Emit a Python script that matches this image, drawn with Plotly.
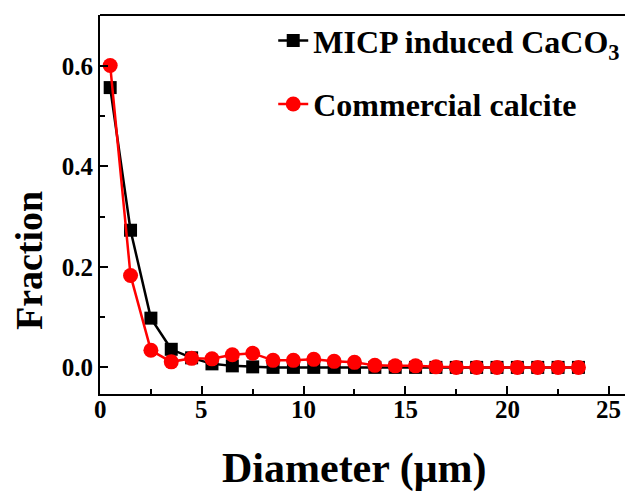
import plotly.graph_objects as go

diameter = [0.5, 1.5, 2.5, 3.5, 4.5, 5.5, 6.5, 7.5, 8.5, 9.5, 10.5, 11.5,
            12.5, 13.5, 14.5, 15.5, 16.5, 17.5, 18.5, 19.5, 20.5, 21.5, 22.5, 23.5]
micp = [0.557, 0.273, 0.098, 0.036, 0.019, 0.007, 0.003, 0.001, 0.0, 0.0, 0.0, 0.0,
        0.0, 0.0, 0.0, 0.0, 0.0, 0.0, 0.0, 0.0, 0.0, 0.0, 0.0, 0.0]
calcite = [0.601, 0.183, 0.034, 0.011, 0.018, 0.017, 0.025, 0.028, 0.014, 0.014, 0.016, 0.012,
           0.010, 0.004, 0.003, 0.003, 0.001, 0.0, 0.0, 0.0, 0.0, 0.0, 0.0, 0.0]
x_ticks = [0, 5, 10, 15, 20, 25]
x_tick_labels = ["0", "5", "10", "15", "20", "25"]
y_ticks = [0.0, 0.2, 0.4, 0.6]
y_tick_labels = ["0.0", "0.2", "0.4", "0.6"]

FONT = "Liberation Serif"

fig = go.Figure()
fig.add_trace(go.Scatter(
    x=diameter, y=micp, mode="lines+markers", name="<b>MICP induced CaCO<sub>3</sub></b>",
    legendgroup="a",
    line=dict(color="black", width=2.5),
    marker=dict(symbol="square", size=13, color="black"),
))
fig.add_trace(go.Scatter(
    x=diameter, y=calcite, mode="lines+markers", name="<b>Commercial calcite</b>",
    legendgroup="b",
    line=dict(color="#ff0000", width=2.5),
    marker=dict(symbol="circle", size=15, color="#ff0000"),
))

axis_common = dict(
    showline=True, linecolor="black", linewidth=2, showgrid=False, zeroline=False,
    ticks="inside", ticklen=8, tickwidth=2, tickcolor="black", automargin=False,
    tickfont=dict(family=FONT, size=25, color="black", weight="bold"),
)
fig.update_xaxes(range=[0, 26.18], tickvals=x_ticks, showticklabels=False,
                 minor=dict(ticks="inside", ticklen=5, tickwidth=2, tickcolor="black", dtick=2.5, tick0=0),
                 **axis_common)
fig.update_yaxes(range=[-0.053, 0.7015], tickvals=y_ticks, ticktext=y_tick_labels,
                 minor=dict(ticks="inside", ticklen=5, tickwidth=2, tickcolor="black", dtick=0.1, tick0=0),
                 **axis_common)

# top frame line
fig.add_shape(type="line", xref="paper", yref="paper", x0=0, x1=1, y0=1, y1=1,
              line=dict(color="black", width=2))

# x tick labels placed on the x axis scale
for v, lab in zip(x_ticks, x_tick_labels):
    fig.add_annotation(text=f"<b>{lab}</b>", xref="x", yref="paper", x=v, y=0, yshift=-15,
                       showarrow=False, xanchor="center", yanchor="middle",
                       font=dict(family=FONT, size=25, color="black"))

fig.add_annotation(text="<b>Fraction</b>", xref="paper", yref="paper", x=-0.133, y=0.351,
                   textangle=-90, showarrow=False, xanchor="center", yanchor="middle",
                   font=dict(family=FONT, size=38, color="black"))
fig.add_annotation(text="<b>Diameter (μm)</b>", xref="paper", yref="paper", x=0.476, y=-0.196,
                   showarrow=False, xanchor="center", yanchor="middle",
                   font=dict(family=FONT, size=42, color="black"))

fig.update_layout(
    width=625, height=483,
    margin=dict(l=92, r=0, t=7, b=97, autoexpand=False),
    plot_bgcolor="white", paper_bgcolor="white",
    showlegend=True,
    legend=dict(x=0.325, y=1.005, xanchor="left", yanchor="top", bgcolor="rgba(0,0,0,0)",
                font=dict(family=FONT, size=32, color="black"), tracegroupgap=19,
                itemwidth=30),
)

fig.write_html("out.html")
